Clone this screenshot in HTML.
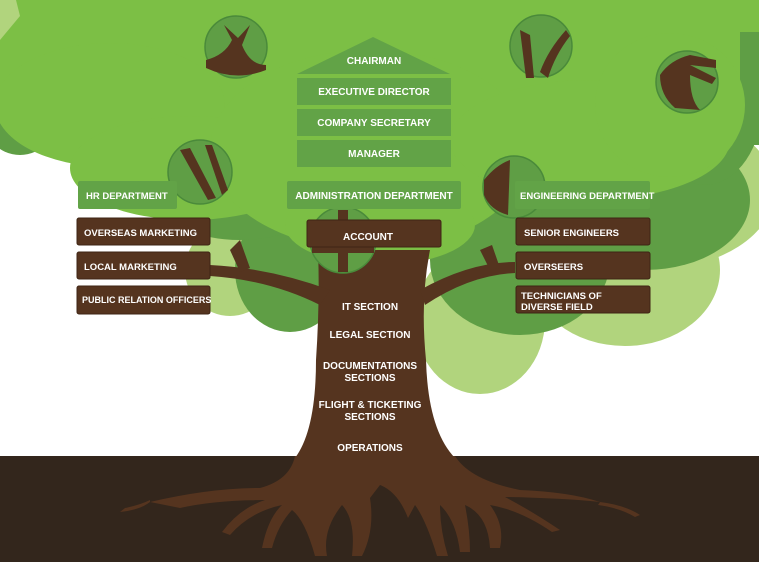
<!DOCTYPE html>
<html><head><meta charset="utf-8"><style>
html,body{margin:0;padding:0;background:#fff;}
svg{display:block}
text{font-family:"Liberation Sans",sans-serif;font-weight:bold;fill:#fff;font-size:10px;}
</style></head><body>
<svg width="759" height="562" viewBox="0 0 759 562" xmlns="http://www.w3.org/2000/svg">
<!-- light green back -->
<g fill="#b1d47d">
<ellipse cx="650" cy="190" rx="125" ry="80"/>
<ellipse cx="625" cy="270" rx="95" ry="76"/>
<ellipse cx="480" cy="320" rx="65" ry="74"/>
<ellipse cx="230" cy="270" rx="45" ry="46"/>
</g>
<!-- mid green -->
<g fill="#5f9e45">
<ellipse cx="290" cy="270" rx="55" ry="62"/>
<ellipse cx="520" cy="260" rx="90" ry="75"/>
<ellipse cx="645" cy="200" rx="105" ry="70"/>
<ellipse cx="705" cy="100" rx="58" ry="85"/>
<ellipse cx="240" cy="200" rx="80" ry="40"/>
<ellipse cx="20" cy="110" rx="40" ry="45"/>
<rect x="720" y="20" width="39" height="125"/>
</g>
<!-- main green -->
<g fill="#7cbf45">
<rect x="-10" y="-10" width="750" height="120"/>
<rect x="700" y="-10" width="70" height="42"/>
<ellipse cx="110" cy="105" rx="115" ry="62"/>
<ellipse cx="190" cy="168" rx="120" ry="52"/>
<ellipse cx="370" cy="150" rx="160" ry="100"/>
<ellipse cx="380" cy="225" rx="95" ry="40"/>
<ellipse cx="590" cy="140" rx="140" ry="60"/>
<ellipse cx="670" cy="105" rx="75" ry="72"/>
</g>
<path d="M0 0 L16 0 L20 16 L0 40 Z" fill="#b1d47d"/>
<!-- trunk & branches -->
<g fill="#55341f">
<path d="M318 250 L430 250 Q420 300 426 360 Q428 430 455 458 L295 458 Q316 430 316 360 Q320 300 318 250 Z"/>
<path d="M330 290 Q270 268 210 265 L210 276 Q270 280 320 305 Z"/>
<path d="M420 290 Q470 262 515 262 L515 273 Q470 275 425 305 Z"/>
<path d="M230 250 L240 272 L250 268 L240 240 Z"/>
<path d="M480 250 L490 270 L500 268 L492 245 Z"/>
</g>
<!-- ground -->
<rect x="0" y="456" width="759" height="106" fill="#33261c"/>
<g fill="#55341f">
<path d="M295 456 L455 456 Q470 480 520 490 Q570 492 600 502 Q560 498 505 497 Q530 510 560 530 L552 532 Q520 510 490 505 Q505 525 500 548 L490 548 Q488 515 465 505 Q470 530 470 552 L460 552 Q456 520 440 505 Q440 530 448 556 L437 556 Q426 520 415 505 L408 518 Q398 492 380 485 L370 498 Q375 530 362 556 L352 556 Q356 520 342 505 Q322 530 327 556 L315 556 Q305 520 292 510 Q278 525 272 548 L262 548 Q268 518 282 505 Q250 512 230 535 L222 532 Q240 508 265 500 Q215 500 180 508 L150 502 Q210 488 260 488 Q290 480 295 456 Z"/>
<path d="M150 502 Q140 510 120 512 L125 508 Q140 505 150 500 Z"/>
<path d="M600 502 Q625 505 640 515 L635 517 Q620 508 598 505 Z"/>
</g>
<!-- circles -->
<g stroke="#4a8a3a" stroke-width="1.5">
<circle cx="236" cy="47" r="31" fill="#5f9e45"/>
<circle cx="541" cy="46" r="31" fill="#5f9e45"/>
<circle cx="687" cy="82" r="31" fill="#5f9e45"/>
<circle cx="200" cy="172" r="32" fill="#5f9e45"/>
<circle cx="514" cy="187" r="31" fill="#5f9e45"/>
<circle cx="343" cy="240" r="33" fill="#5f9e45"/>
</g>
<g fill="#55341f">
<path d="M206 60 Q225 55 232 40 L224 25 L238 38 L250 25 L242 45 Q250 65 266 65 L266 70 Q236 82 206 68 Z"/>
<path d="M520 30 L526 78 L534 78 L530 35 Z M540 72 Q548 50 566 30 L570 36 Q555 55 548 78 Z"/>
<path d="M660 75 Q670 60 690 55 L716 60 L716 68 L690 65 L716 78 L712 84 L690 75 Q690 100 700 110 L675 108 Q660 95 660 75 Z"/>
<path d="M180 150 L208 200 L216 198 L190 148 Z M205 145 L222 195 L228 190 L212 145 Z"/>
<path d="M484 180 Q496 165 510 160 L508 215 Q490 210 484 195 Z"/>
<path d="M338 210 L348 210 L348 272 L338 272 Z M312 245 L374 245 L374 253 L312 253 Z"/>
</g>
<!-- green boxes -->
<g fill="#62a347">
<path d="M373 37 L450 74 L297 74 Z"/>
<rect x="297" y="78" width="154" height="27"/>
<rect x="297" y="109" width="154" height="27"/>
<rect x="297" y="140" width="154" height="27"/>
<rect x="78" y="181" width="99" height="28" rx="2"/>
<rect x="287" y="181" width="174" height="28" rx="2"/>
<rect x="515" y="181" width="135" height="28" rx="2"/>
</g>
<!-- brown boxes -->
<g fill="#55341f" stroke="#3e2514" stroke-width="1">
<rect x="77" y="218" width="133" height="27" rx="2"/>
<rect x="77" y="252" width="133" height="27" rx="2"/>
<rect x="77" y="286" width="133" height="28" rx="2"/>
<rect x="516" y="218" width="134" height="27" rx="2"/>
<rect x="516" y="252" width="134" height="27" rx="2"/>
<rect x="516" y="286" width="134" height="27" rx="2"/>
<rect x="307" y="220" width="134" height="27" rx="2"/>
</g>
<g text-anchor="middle">
<text x="374" y="64">CHAIRMAN</text>
<text x="374" y="95">EXECUTIVE DIRECTOR</text>
<text x="374" y="126">COMPANY SECRETARY</text>
<text x="374" y="157">MANAGER</text>
<text x="374" y="199">ADMINISTRATION DEPARTMENT</text>
<text x="368" y="240">ACCOUNT</text>
<text x="370" y="310">IT SECTION</text>
<text x="370" y="338">LEGAL SECTION</text>
<text x="370" y="369">DOCUMENTATIONS</text>
<text x="370" y="381">SECTIONS</text>
<text x="370" y="408">FLIGHT &amp; TICKETING</text>
<text x="370" y="420">SECTIONS</text>
<text x="370" y="451">OPERATIONS</text>
</g>
<text x="86" y="199" style="font-size:9.5px">HR DEPARTMENT</text>
<text x="520" y="199" style="font-size:9.5px">ENGINEERING DEPARTMENT</text>
<text x="84" y="236" style="font-size:9.5px">OVERSEAS MARKETING</text>
<text x="84" y="270" style="font-size:9.5px">LOCAL  MARKETING</text>
<text x="82" y="303" style="font-size:9px">PUBLIC RELATION OFFICERS</text>
<text x="524" y="236" style="font-size:9.5px">SENIOR ENGINEERS</text>
<text x="524" y="270" style="font-size:9.5px">OVERSEERS</text>
<text x="521" y="299" style="font-size:9.5px">TECHNICIANS OF</text>
<text x="521" y="310" style="font-size:9.5px">DIVERSE FIELD</text>
</svg>
</body></html>
